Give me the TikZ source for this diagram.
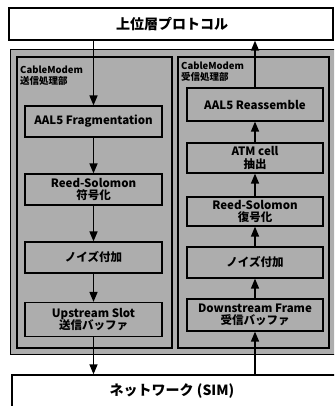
\documentclass[tikz,border=0pt]{standalone}
\usepackage{fontspec}
\setmainfont{Noto Sans CJK JP}
\usetikzlibrary{arrows.meta}
\begin{document}
\begin{tikzpicture}[x=1pt,y=-1pt,
  graybg/.style={fill=black!32},
  whitebox/.style={draw, line width=1.4pt, fill=white, inner sep=0pt},
  panelbox/.style={draw, line width=1.4pt, graybg, inner sep=0pt},
  procbox/.style={draw, line width=1.2pt, graybg, inner sep=0pt, align=center,
     font=\bfseries\fontsize{11.5}{12.5}\selectfont},
  panellabel/.style={anchor=north west, inner sep=0pt, align=left,
     font=\bfseries\fontsize{9.5}{11}\selectfont},
  arr/.style={line width=1.5pt, -{Triangle[length=10pt,width=8pt]}}
]
\useasboundingbox (0,0) rectangle (334,406);
\clip (0,0) rectangle (334,406);
\fill[white] (0,0) rectangle (334,406);
% top box
\node[whitebox, minimum width=324pt, minimum height=32pt] (top) at (171,24) {};
\node[font=\bfseries\fontsize{14}{15}\selectfont, inner sep=0pt] (toptext) at (172,24) {上位層プロトコル};
% outer gray area
\node[draw, line width=1pt, graybg, minimum width=330pt, minimum height=304pt, inner sep=0pt] (outer) at (175,202) {};
% panels
\node[panelbox, minimum width=155pt, minimum height=291pt] (lp) at (94.5,202.5) {};
\node[panelbox, minimum width=151pt, minimum height=291pt] (rp) at (253.5,202.5) {};
\node[panellabel] (lpl) at (20,66) {CableModem\\送信処理部};
\node[panellabel] (rpl) at (181,62) {CableModem\\受信処理部};
% left boxes
\node[procbox, minimum width=137pt, minimum height=31pt] (lf1) at (93.5,121.5) {AAL5 Fragmentation};
\node[procbox, minimum width=137pt, minimum height=31pt] (lf2) at (93.5,189.5) {Reed-Solomon\\符号化};
\node[procbox, minimum width=137pt, minimum height=31pt] (lf3) at (93.5,257.5) {ノイズ付加};
\node[procbox, minimum width=137pt, minimum height=34pt] (lf4) at (93.5,319.5) {Upstream Slot\\送信バッファ};
% right boxes
\node[procbox, minimum width=136pt, minimum height=33pt] (r1) at (255,104.5) {AAL5 Reassemble};
\node[procbox, minimum width=136pt, minimum height=30pt] (r2) at (255,158) {ATM cell\\抽出};
\node[procbox, minimum width=136pt, minimum height=29pt] (r3) at (255,211.5) {Reed-Solomon\\復号化};
\node[procbox, minimum width=136pt, minimum height=31pt] (r4) at (255,262.5) {ノイズ付加};
\node[procbox, minimum width=136pt, minimum height=32pt] (r5) at (255,315) {Downstream Frame\\受信バッファ};
% bottom box
\node[whitebox, minimum width=330pt, minimum height=40pt] (net) at (177,395) {};
\node[font=\bfseries\fontsize{14}{15}\selectfont, inner sep=0pt] (nettext) at (172,391) {ネットワーク (SIM)};
% arrows down (send)
\draw[arr] (top.south -| lf1.north) -- (lf1.north);
\draw[arr] (lf1.south) -- (lf2.north);
\draw[arr] (lf2.south) -- (lf3.north);
\draw[arr] (lf3.south) -- (lf4.north);
\draw[arr] (lf4.south) -- (lf4.south |- net.north);
% arrows up (receive)
\draw[arr] (net.north -| r5.south) -- (r5.south);
\draw[arr] (r5.north) -- (r4.south);
\draw[arr] (r4.north) -- (r3.south);
\draw[arr] (r3.north) -- (r2.south);
\draw[arr] (r2.north) -- (r1.south);
\draw[arr] (r1.north) -- (r1.north |- top.south);
\end{tikzpicture}
\end{document}
